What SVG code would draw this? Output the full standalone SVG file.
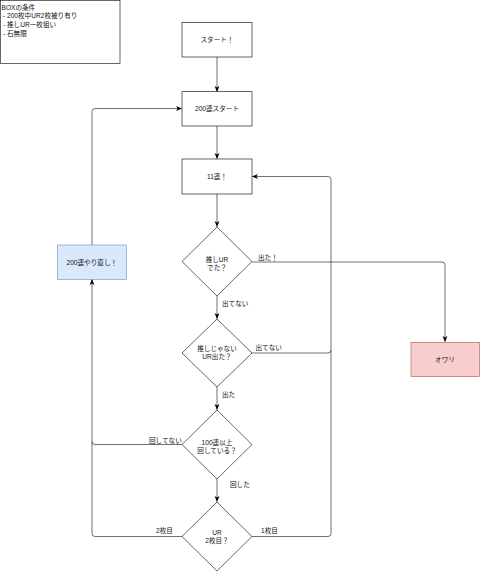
<svg xmlns="http://www.w3.org/2000/svg" width="480" height="571" viewBox="0 0 480 571">
<defs>
<style>
text{font-family:"Liberation Sans","Noto Sans CJK JP",sans-serif;font-size:6.6px;fill:#111}
.c{text-anchor:middle;dominant-baseline:central}
.l{dominant-baseline:central}
.n{fill:#fff;stroke:#000;stroke-width:0.6}
.e{fill:none;stroke:#111;stroke-width:0.6}
</style>
<marker id="a" viewBox="0 0 10 10" refX="9" refY="5" markerWidth="6" markerHeight="6" markerUnits="userSpaceOnUse" orient="auto">
<path d="M0,1 L10,5 L0,9 L2.5,5 Z" fill="#000"/>
</marker>
</defs>
<rect width="480" height="571" fill="#fff"/>

<g id="cond">
<rect class="n" x="0.5" y="0.5" width="119.5" height="63"/>
<text class="l" x="1.5" y="7">BOXの条件</text>
<text class="l" x="3" y="15.7">- 200枚中UR2枚被り有り</text>
<text class="l" x="3" y="24.3">- 推しUR一枚狙い</text>
<text class="l" x="3" y="33">- 石無限</text>
</g>

<g id="connectors">
<path class="e" d="M217,57 V91.5" marker-end="url(#a)"/>
<path class="e" d="M217,126 V158.5" marker-end="url(#a)"/>
<path class="e" d="M217,194 V226.5" marker-end="url(#a)"/>
<path class="e" d="M217,296 V318.5" marker-end="url(#a)"/>
<path class="e" d="M217,387 V409.5" marker-end="url(#a)"/>
<path class="e" d="M217,479 V501.5" marker-end="url(#a)"/>
<path class="e" d="M252,262 H442 Q445,262 445,265 V341.5" marker-end="url(#a)"/>
<path class="e" d="M252,353 H328 Q331,353 331,350 V179.5 Q331,176.5 328,176.5 H252.5" marker-end="url(#a)"/>
<path class="e" d="M252,536.5 H328 Q331,536.5 331,533.5 V350"/>
<path class="e" d="M182,444.5 H95 Q92,444.5 92,441.5 V279.5" marker-end="url(#a)"/>
<path class="e" d="M182,536.5 H95 Q92,536.5 92,533.5 V441.5"/>
<path class="e" d="M92,245 V111.5 Q92,108.5 95,108.5 H181.5" marker-end="url(#a)"/>
<text class="l" x="258" y="257.7">出た！</text>
<text class="l" x="222" y="303">出てない</text>
<text class="l" x="255.5" y="347.7">出てない</text>
<text class="l" x="222" y="394.3">出た</text>
<text class="l" x="149" y="440">回してない</text>
<text class="l" x="230" y="484">回した</text>
<text class="l" x="156" y="530.7">2枚目</text>
<text class="l" x="261" y="530.7">1枚目</text>
</g>

<g id="start">
<rect class="n" x="182" y="22.5" width="70" height="34.5"/>
<text class="c" x="217" y="39.8">スタート！</text>
</g>
<g id="start200">
<rect class="n" x="182" y="91.7" width="70" height="34.3"/>
<text class="c" x="217" y="108.8">200連スタート</text>
</g>
<g id="gacha11">
<rect class="n" x="182" y="159" width="70" height="35"/>
<text class="c" x="217" y="176.5">11連！</text>
</g>
<g id="d1">
<path class="n" d="M217,227 L252,261.5 L217,296 L182,261.5 Z"/>
<text class="c" x="217" y="259">推しUR</text>
<text class="c" x="217" y="267">でた？</text>
</g>
<g id="d2">
<path class="n" d="M217,319 L252,353 L217,387 L182,353 Z"/>
<text class="c" x="217" y="348">推しじゃない</text>
<text class="c" x="217" y="356">UR出た？</text>
</g>
<g id="d3">
<path class="n" d="M217,410 L252,444.5 L217,479 L182,444.5 Z"/>
<text class="c" x="217" y="442.3">100連以上</text>
<text class="c" x="217" y="450.3">回している？</text>
</g>
<g id="d4">
<path class="n" d="M217,502 L252,536.5 L217,571 L182,536.5 Z"/>
<text class="c" x="217" y="532.7">UR</text>
<text class="c" x="217" y="540.5">2枚目？</text>
</g>
<g id="retry">
<rect x="57.3" y="245" width="69" height="34.3" fill="#dae8fc" stroke="#6c8ebf" stroke-width="0.6"/>
<text class="c" x="91.8" y="262.2">200連やり直し！</text>
</g>
<g id="end">
<rect x="411" y="342.3" width="68.5" height="34.4" fill="#f8cecc" stroke="#b85450" stroke-width="0.6"/>
<text class="c" x="445" y="359.5">オワリ</text>
</g>
</svg>
